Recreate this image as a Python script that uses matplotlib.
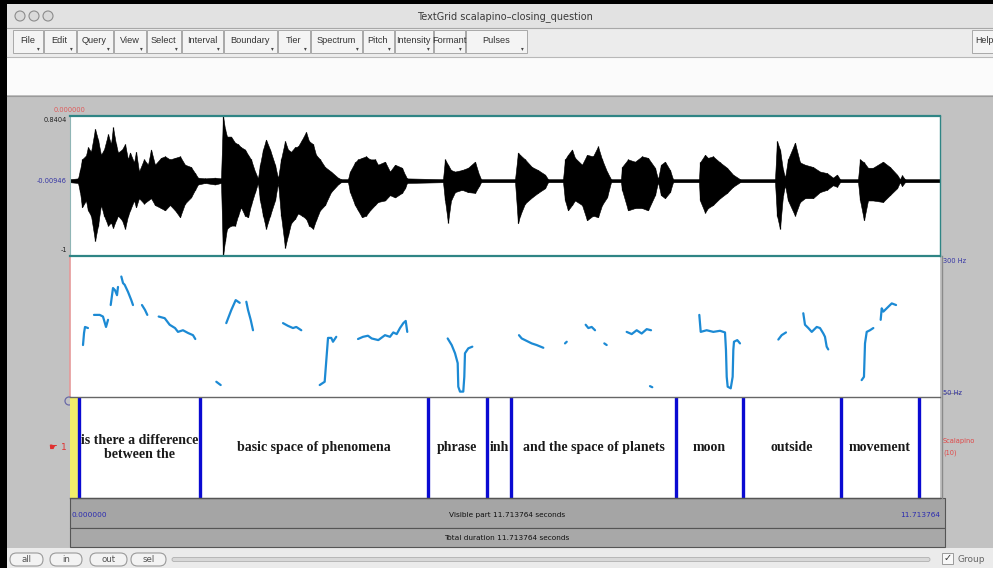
import numpy as np
import matplotlib
matplotlib.use('Agg')
import matplotlib.pyplot as plt
from matplotlib.patches import Rectangle, FancyBboxPatch, Circle

# ---------------- data ----------------
total_dur = 11.713764
wave_top_label = 0.8404
wave_mid_label = -0.00946
wave_bottom_label = -1.0
pitch_floor = 50
pitch_ceiling = 300
tier_name = "Scalapino"
tier_count = 10

# waveform envelope (time s, upper amplitude, lower amplitude)
wave_t = [0.000, 0.108, 0.135, 0.162, 0.215, 0.242, 0.283, 0.337, 0.377, 0.417, 0.458, 0.512, 0.552,
          0.579, 0.619, 0.646, 0.700, 0.741, 0.781, 0.808, 0.862, 0.889, 0.929, 0.996, 1.050, 1.091,
          1.144, 1.225, 1.279, 1.346, 1.414, 1.481, 1.548, 1.629, 1.683, 1.723, 1.818, 1.952, 2.033,
          2.060, 2.087, 2.114, 2.168, 2.222, 2.262, 2.302, 2.356, 2.397, 2.437, 2.491, 2.531, 2.558,
          2.599, 2.639, 2.693, 2.760, 2.801, 2.841, 2.895, 2.935, 2.976, 3.029, 3.070, 3.124, 3.178,
          3.218, 3.272, 3.312, 3.366, 3.433, 3.514, 3.608, 3.649, 3.743, 3.770, 3.837, 3.878, 3.931,
          3.985, 4.039, 4.107, 4.147, 4.241, 4.308, 4.376, 4.470, 4.510, 4.537, 5.022, 5.049, 5.089,
          5.130, 5.184, 5.278, 5.359, 5.453, 5.507, 5.534, 5.992, 6.032, 6.059, 6.126, 6.220, 6.301,
          6.395, 6.436, 6.638, 6.665, 6.705, 6.759, 6.799, 6.894, 6.961, 7.042, 7.109, 7.163, 7.230,
          7.284, 7.419, 7.432, 7.513, 7.607, 7.701, 7.782, 7.876, 7.917, 7.957, 8.011, 8.078, 8.119,
          8.469, 8.482, 8.550, 8.590, 8.657, 8.752, 8.846, 8.927, 9.021, 9.492, 9.519, 9.559, 9.600,
          9.627, 9.667, 9.761, 9.829, 9.896, 10.004, 10.098, 10.192, 10.273, 10.327, 10.367, 10.610,
          10.637, 10.690, 10.744, 10.811, 10.946, 11.040, 11.135, 11.175, 11.202, 11.242, 11.714]
wave_hi = [0.01, 0.02, 0.13, 0.27, 0.32, 0.43, 0.37, 0.67, 0.53, 0.33, 0.40, 0.60, 0.47,
           0.69, 0.47, 0.36, 0.40, 0.47, 0.27, 0.36, 0.23, 0.37, 0.11, 0.27, 0.20, 0.40,
           0.20, 0.29, 0.31, 0.27, 0.29, 0.31, 0.20, 0.17, 0.09, 0.03, 0.02, 0.03, 0.02,
           0.84, 0.67, 0.57, 0.57, 0.49, 0.47, 0.43, 0.40, 0.33, 0.27, 0.11, 0.02, 0.20,
           0.40, 0.53, 0.40, 0.20, 0.02, 0.27, 0.51, 0.40, 0.37, 0.43, 0.44, 0.53, 0.63,
           0.51, 0.47, 0.33, 0.27, 0.17, 0.11, 0.03, 0.01, 0.01, 0.11, 0.23, 0.27, 0.29,
           0.31, 0.27, 0.27, 0.20, 0.24, 0.11, 0.20, 0.16, 0.07, 0.02, 0.01, 0.27, 0.20,
           0.13, 0.11, 0.13, 0.16, 0.24, 0.07, 0.01, 0.01, 0.36, 0.33, 0.27, 0.17, 0.13,
           0.07, 0.01, 0.01, 0.27, 0.33, 0.40, 0.29, 0.20, 0.33, 0.31, 0.44, 0.27, 0.11,
           0.01, 0.01, 0.17, 0.27, 0.24, 0.31, 0.29, 0.16, 0.01, 0.20, 0.24, 0.13, 0.01,
           0.01, 0.23, 0.33, 0.29, 0.31, 0.23, 0.16, 0.07, 0.01, 0.01, 0.51, 0.40, 0.13,
           0.03, 0.27, 0.49, 0.23, 0.20, 0.17, 0.11, 0.09, 0.03, 0.07, 0.01, 0.01,
           0.27, 0.23, 0.16, 0.16, 0.24, 0.17, 0.07, 0.01, 0.06, 0.01, 0.01]
wave_lo = [-0.03, -0.04, -0.16, -0.36, -0.27, -0.40, -0.47, -0.80, -0.60, -0.33, -0.47, -0.60, -0.56,
           -0.63, -0.53, -0.47, -0.53, -0.64, -0.47, -0.40, -0.27, -0.36, -0.24, -0.31, -0.27, -0.24,
           -0.33, -0.37, -0.40, -0.33, -0.40, -0.49, -0.31, -0.23, -0.13, -0.06, -0.04, -0.06, -0.04,
           -1.00, -0.80, -0.64, -0.60, -0.60, -0.47, -0.36, -0.47, -0.49, -0.33, -0.16, -0.04, -0.27,
           -0.47, -0.64, -0.47, -0.27, -0.04, -0.47, -0.89, -0.73, -0.57, -0.51, -0.44, -0.47, -0.51,
           -0.60, -0.64, -0.53, -0.40, -0.33, -0.16, -0.06, -0.03, -0.03, -0.16, -0.33, -0.40, -0.49,
           -0.47, -0.40, -0.33, -0.29, -0.27, -0.20, -0.23, -0.17, -0.11, -0.04, -0.03, -0.27, -0.56,
           -0.27, -0.16, -0.13, -0.16, -0.17, -0.08, -0.03, -0.03, -0.57, -0.47, -0.31, -0.23, -0.17,
           -0.11, -0.03, -0.03, -0.27, -0.40, -0.33, -0.27, -0.33, -0.53, -0.47, -0.49, -0.33, -0.23,
           -0.03, -0.03, -0.13, -0.40, -0.37, -0.37, -0.40, -0.20, -0.03, -0.20, -0.24, -0.16, -0.03,
           -0.03, -0.27, -0.43, -0.37, -0.33, -0.24, -0.17, -0.09, -0.03, -0.03, -0.47, -0.64, -0.20,
           -0.07, -0.27, -0.47, -0.29, -0.24, -0.24, -0.16, -0.13, -0.07, -0.09, -0.03, -0.03,
           -0.27, -0.53, -0.27, -0.27, -0.29, -0.20, -0.11, -0.03, -0.08, -0.03, -0.03]

# pitch track (time s, Hz); None separates voiced stretches
pitch_t = [0.175, 0.189, 0.202, 0.242, None,
           0.323, 0.400, 0.444, 0.485, 0.512, None,
           0.548, 0.579, 0.606, 0.633, 0.646, None,
           0.691, 0.714, 0.736, 0.781, 0.825, 0.848, None,
           0.969, 1.010, 1.041, None,
           1.194, 1.275, 1.342, 1.414, 1.454, 1.521, 1.589, 1.656, 1.687, None,
           1.970, 2.029, None,
           2.104, 2.172, 2.231, 2.285, None,
           2.374, 2.397, 2.433, 2.464, None,
           2.868, 2.935, 3.002, 3.047, 3.114, None,
           3.362, 3.429, 3.451, 3.474, 3.518, 3.541, 3.585, None,
           3.878, 3.945, 4.012, 4.062, 4.151, 4.241, 4.308, 4.353, 4.399, 4.443, 4.488, 4.520, 4.541, None,
           5.085, 5.139, 5.184, 5.220, 5.228, 5.251, 5.295, 5.309, 5.318, 5.363, 5.417, None,
           6.045, 6.082, 6.126, 6.216, 6.283, 6.373, None,
           6.665, 6.688, None,
           6.943, 6.979, 7.024, 7.069, None,
           7.194, 7.226, None,
           7.495, 7.563, 7.630, 7.697, 7.765, 7.823, None,
           7.809, 7.840, None,
           8.473, 8.492, 8.572, 8.662, 8.752, 8.819, 8.832, 8.842, 8.855, 8.896, 8.922, 8.931, 8.940,
           8.984, 9.021, None,
           9.537, 9.582, 9.640, None,
           9.873, 9.896, 9.941, 9.987, 10.054, 10.098, 10.143, 10.165, 10.188, 10.209, None,
           10.659, 10.690, 10.704, 10.727, 10.771, 10.816, None,
           10.915, 10.929, 10.951, 11.018, 11.064, 11.122]
pitch_hz = [143, 165, 176, 174, None,
            198, 198, 195, 176, 189, None,
            216, 247, 243, 234, 249, None,
            268, 256, 253, 240, 225, 216, None,
            216, 207, 198, None,
            195, 192, 180, 174, 167, 170, 165, 161, 154, None,
            76, 70, None,
            183, 207, 225, 220, None,
            222, 207, 189, 170, None,
            183, 178, 174, 176, 170, None,
            70, 76, 116, 156, 156, 149, 158, None,
            154, 158, 160, 155, 152, 161, 158, 166, 163, 174, 183, 187, 167, None,
            155, 143, 128, 110, 67, 58, 58, 85, 128, 137, 140, None,
            161, 155, 152, 146, 143, 138, None,
            146, 149, None,
            180, 174, 176, 170, None,
            146, 143, None,
            167, 163, 170, 164, 172, 170, None,
            68, 66, None,
            198, 167, 170, 167, 169, 166, 134, 85, 67, 64, 85, 134, 149,
            152, 146, None,
            153, 161, 166, None,
            201, 180, 174, 167, 176, 174, 164, 158, 140, 135, None,
            79, 85, 146, 167, 170, 174, None,
            189, 210, 204, 213, 219, 216]

# interval tier
boundaries = [0.121, 1.750, 4.820, 5.615, 5.938, 8.160, 9.062, 10.381, 11.431]
labels = ["", "is there a difference\nbetween the", "basic space of phenomena", "phrase", "inh",
          "and the space of planets", "moon", "outside", "movement", ""]

menu_items = ["File", "Edit", "Query", "View", "Select", "Interval", "Boundary", "Tier",
              "Spectrum", "Pitch", "Intensity", "Formant", "Pulses"]
bottom_buttons = ["all", "in", "out", "sel"]

# ---------------- figure ----------------
W, H = 993, 568
fig = plt.figure(figsize=(W / 100, H / 100), dpi=100, facecolor='black')
bg = fig.add_axes([0, 0, 1, 1])
bg.set_xlim(0, W)
bg.set_ylim(H, 0)
bg.axis('off')


def box(x0, y0, x1, y1, fc, ec='none', lw=0, z=0):
    bg.add_patch(Rectangle((x0, y0), x1 - x0, y1 - y0, facecolor=fc, edgecolor=ec, linewidth=lw, zorder=z))


def frac(x0, y0, x1, y1):
    return [x0 / W, 1 - y1 / H, (x1 - x0) / W, (y1 - y0) / H]


ui = dict(family='DejaVu Sans')
menu_font = dict(family='Liberation Sans')
# window chrome
box(7, 4, W, H, '#c3c3c3')
box(7, 4, W, 28, '#e2e2e2')
bg.plot([7, W], [28, 28], color='#a8a8a8', lw=0.8)
for cx in (20, 34, 48):
    bg.add_patch(Circle((cx, 16), 5, facecolor='#dadada', edgecolor='#8c8c8c', lw=0.8, zorder=2))
bg.text(505, 16.5, 'TextGrid scalapino\u2013closing_question', ha='center', va='center',
        fontsize=7, color='#3a3a3a', **ui)

box(7, 28, W, 57, '#ececec')
bg.plot([7, W], [57, 57], color='#b8b8b8', lw=0.8)
edges = [12, 43, 76, 113, 146, 181, 223, 277, 310, 362, 394, 433, 465, 527]
for i, name in enumerate(menu_items):
    x0, x1 = edges[i], edges[i + 1]
    box(x0 + 0.5, 30, x1 - 0.5, 53, '#f4f4f4', ec='#a8a8a8', lw=0.7, z=1)
    bg.text((x0 + x1) / 2, 40.5, name, ha='center', va='center', fontsize=6.6, color='#333', zorder=3,
            **menu_font)
    bg.text(x1 - 5, 48.5, '\u25be', ha='center', va='center', fontsize=4, color='#444', zorder=3, **ui)
box(972, 30, 996, 53, '#f4f4f4', ec='#a8a8a8', lw=0.7, z=1)
bg.text(975.5, 40.5, 'Help', ha='left', va='center', fontsize=6.4, color='#333', zorder=3, **menu_font)

box(7, 57, W, 95, '#fbfbfb')
box(7, 95, W, 548, '#c2c2c2')
bg.plot([7, W], [95.5, 95.5], color='#9a9a9a', lw=0.8)

# drawing area background
box(70, 116, 940, 498, 'white', z=1)
bg.plot([70, 70], [257, 396], color='#e59a9a', lw=1.2, zorder=2)
bg.plot([941.5, 941.5], [256, 498], color='#8a8a8a', lw=1.0, zorder=2)
bg.plot([941.5, 960], [393, 393], color='#8a8a8a', lw=0.6, zorder=2)

# bottom bars
box(70, 498, 945, 528, '#a5a5a5', ec='#555555', lw=0.8, z=1)
box(70, 528, 945, 547, '#a8a8a8', ec='#555555', lw=0.8, z=1)
small = dict(fontsize=5.3, va='center', zorder=4, **ui)
bg.text(72, 515, '%.6f' % 0.0, ha='left', color='#2b2bb0', **small)
bg.text(507, 515, 'Visible part %.6f seconds' % total_dur, ha='center', color='#111', **small)
bg.text(940, 515, '%.6f' % total_dur, ha='right', color='#2b2bb0', **small)
bg.text(507, 538, 'Total duration %.6f seconds' % total_dur, ha='center', color='#111', **small)

# bottom strip
box(7, 548, W, H, '#ebebeb')
bpos = [(10, 43), (50, 82), (90, 127), (131, 166)]
for (x0, x1), name in zip(bpos, bottom_buttons):
    bg.add_patch(FancyBboxPatch((x0, 553), x1 - x0, 13, boxstyle='round,pad=0,rounding_size=6.5',
                                facecolor='#f3f3f3', edgecolor='#9a9a9a', lw=0.8, zorder=2))
    bg.text((x0 + x1) / 2, 559.5, name, ha='center', va='center', fontsize=6.2, color='#555', zorder=3, **ui)
bg.add_patch(FancyBboxPatch((172, 557.5), 758, 4, boxstyle='round,pad=0,rounding_size=2',
                            facecolor='#d8d8d8', edgecolor='#b0b0b0', lw=0.6, zorder=2))
box(942, 553, 953, 564, '#f8f8f8', ec='#9a9a9a', lw=0.7, z=2)
bg.text(947.5, 558, '\u2713', ha='center', va='center', fontsize=7, color='#333', zorder=3, **ui)
bg.text(957, 559.5, 'Group', ha='left', va='center', fontsize=6.5, color='#666', zorder=3, **ui)

# axis labels
tiny = dict(fontsize=4.8, va='center', zorder=4, **ui)
bg.text(70, 109.5, '%.6f' % 0.0, ha='center', color='#e05a5a', **tiny)
bg.text(67, 119.5, '%g' % wave_top_label, ha='right', color='#222', **tiny)
bg.text(67, 181, '%g' % wave_mid_label, ha='right', color='#3535a5', **tiny)
bg.text(67, 250, '%g' % wave_bottom_label, ha='right', color='#222', **tiny)
bg.text(943, 261, '%d Hz' % pitch_ceiling, ha='left', color='#3535a5', **tiny)
bg.text(943, 393, '%d Hz' % pitch_floor, ha='left', color='#3535a5', **tiny)
bg.text(943, 441, tier_name, ha='left', color='#e04848', **tiny)
bg.text(943, 453, '(%d)' % tier_count, ha='left', color='#e04848', **tiny)
bg.text(53, 447, '\u261b', ha='center', va='center', fontsize=7, color='#e03030', zorder=4, **ui)
bg.text(64, 447, '1', ha='center', va='center', fontsize=6.5, color='#e03030', zorder=4, **ui)
bg.add_patch(Circle((69, 401), 4, facecolor='none', edgecolor='#6a6aa8', lw=0.9, zorder=5))

# ---------------- waveform ----------------
wa = fig.add_axes(frac(70, 116, 940, 256))
wa.set_facecolor('none')
wa.fill_between(wave_t, wave_lo, wave_hi, color='black', lw=0.4, edgecolor='black')
wa.vlines(wave_t, wave_lo, wave_hi, color='black', lw=0.9)
wa.set_xlim(0, total_dur)
wa.set_ylim(wave_bottom_label, wave_top_label)
wa.set_xticks([]); wa.set_yticks([])
for s in ('top', 'bottom'):
    wa.spines[s].set_color('#2f8585'); wa.spines[s].set_linewidth(1.6)
wa.spines['right'].set_color('#2f8585'); wa.spines['right'].set_linewidth(1.0)
wa.spines['left'].set_color('#8fb5b5'); wa.spines['left'].set_linewidth(0.8)

# ---------------- pitch ----------------
pa = fig.add_axes(frac(70, 259, 940, 396))
pa.set_facecolor('none')
pa.plot(np.array(pitch_t, dtype=float), np.array(pitch_hz, dtype=float), color='#1c8ad4', lw=1.6,
        solid_capstyle='round', solid_joinstyle='round')
pa.set_xlim(0, total_dur)
pa.set_ylim(pitch_floor, pitch_ceiling)
pa.axis('off')

# ---------------- tier ----------------
ta = fig.add_axes(frac(70, 397, 940, 498))
ta.set_facecolor('none')
ta.set_xlim(0, total_dur)
ta.set_ylim(0, 1)
ta.set_xticks([]); ta.set_yticks([])
for s in ('left', 'right'):
    ta.spines[s].set_visible(False)
ta.spines['top'].set_color('#666'); ta.spines['top'].set_linewidth(1.0)
ta.spines['bottom'].set_color('#555'); ta.spines['bottom'].set_linewidth(1.0)
ta.axvspan(0, boundaries[0], color='#f2ee6a', lw=0)
for b in boundaries:
    ta.axvline(b, color='#0a0ad2', lw=2.4)
edges_t = [0.0] + boundaries + [total_dur]
for i, lab in enumerate(labels):
    if lab:
        ta.text((edges_t[i] + edges_t[i + 1]) / 2, 0.5, lab, ha='center', va='center',
                fontsize=10, fontweight='bold', color='#1a1a1a', family='Liberation Serif',
                linespacing=1.05)

fig.savefig('out.png', dpi=100, facecolor='black')
